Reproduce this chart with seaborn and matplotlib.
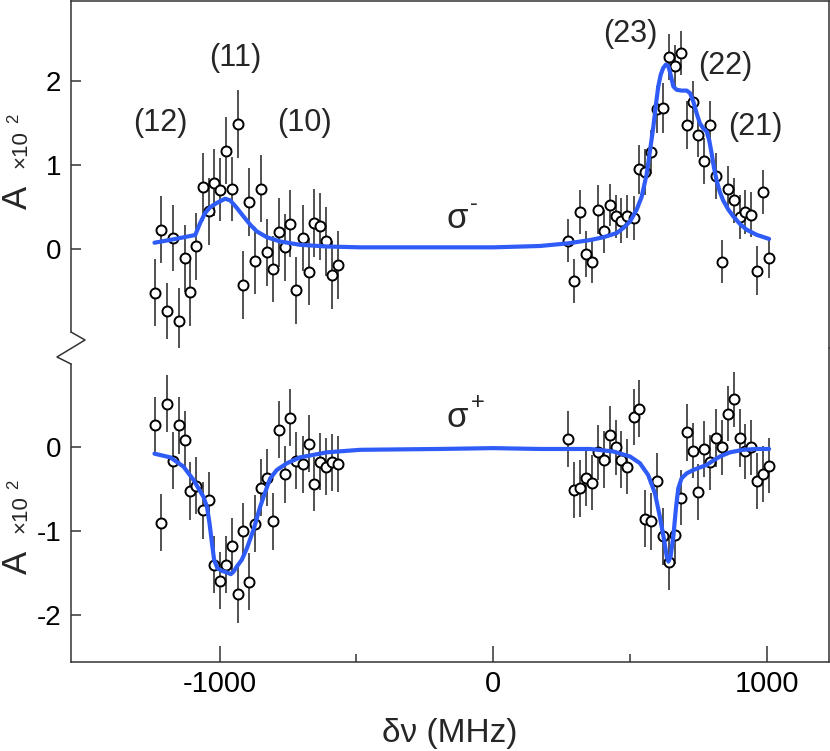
import numpy as np
import matplotlib
matplotlib.use("Agg")
import matplotlib.pyplot as plt
import seaborn as sns
from matplotlib.lines import Line2D
from matplotlib.ticker import FixedLocator

# ---- data ----
# sigma- , left group (10)-(12)
x_left = [-1235, -1214, -1193, -1171, -1150, -1128, -1107, -1085, -1061, -1040,
          -1020, -998, -977, -955, -933, -913, -891, -869, -848, -826,
          -805, -783, -762, -741, -719, -697, -675, -654, -633, -611,
          -589, -567]
sm_left = [-0.52, 0.23, -0.74, 0.13, -0.86, -0.11, -0.51, 0.03, 0.74, 0.45,
           0.79, 0.71, 1.17, 0.72, 1.49, -0.43, 0.56, -0.14, 0.72, -0.04,
           -0.24, 0.20, 0.02, 0.30, -0.49, 0.13, -0.27, 0.31, 0.27, 0.09,
           -0.31, -0.19]
sm_left_err = [0.40, 0.40, 0.33, 0.39, 0.40, 0.40, 0.41, 0.40, 0.40, 0.40,
               0.40, 0.38, 0.40, 0.38, 0.41, 0.41, 0.41, 0.40, 0.40, 0.40,
               0.39, 0.41, 0.40, 0.40, 0.40, 0.39, 0.40, 0.41, 0.40, 0.41,
               0.41, 0.41]

# right group (21)-(23)
x_right = [274, 295, 317, 339, 361, 383, 404, 426, 447, 468,
           490, 513, 534, 556, 577, 598, 620, 641, 663, 685,
           707, 729, 749, 771, 792, 814, 836, 856, 878, 900,
           921, 943, 965, 986, 1007]
sm_right = [0.10, -0.38, 0.44, -0.06, -0.15, 0.47, 0.21, 0.53, 0.39, 0.34,
            0.39, 0.37, 0.95, 0.92, 1.16, 1.67, 1.68, 2.29, 2.18, 2.34,
            1.48, 1.75, 1.36, 1.05, 1.48, 0.87, -0.15, 0.72, 0.58, 0.38,
            0.44, 0.41, -0.26, 0.68, -0.11]
sm_right_err = [0.26, 0.26, 0.26, 0.27, 0.26, 0.29, 0.26, 0.25, 0.26, 0.27,
                0.26, 0.26, 0.29, 0.27, 0.26, 0.28, 0.30, 0.27, 0.26, 0.26,
                0.29, 0.26, 0.26, 0.27, 0.29, 0.27, 0.26, 0.27, 0.27, 0.26,
                0.26, 0.27, 0.29, 0.26, 0.24]

# sigma+ , same frequencies
sp_left = [0.26, -0.90, 0.52, -0.16, 0.26, 0.09, -0.52, -0.46, -0.75, -0.63,
           -1.40, -1.59, -1.40, -1.18, -1.75, -1.00, -1.60, -0.91, -0.48, -0.36,
           -0.88, 0.21, -0.32, 0.35, -0.16, -0.20, 0.04, -0.44, -0.17, -0.23,
           -0.18, -0.20]
sp_left_err = [0.34, 0.34, 0.34, 0.34, 0.34, 0.34, 0.34, 0.34, 0.34, 0.34,
               0.34, 0.34, 0.34, 0.34, 0.34, 0.34, 0.34, 0.34, 0.34, 0.34,
               0.34, 0.34, 0.34, 0.34, 0.34, 0.34, 0.34, 0.32, 0.34, 0.34,
               0.34, 0.33]
sp_right = [0.10, -0.51, -0.49, -0.37, -0.42, -0.06, -0.15, 0.15, 0.00, -0.15,
            -0.23, 0.36, 0.46, -0.85, -0.88, -0.40, -1.06, -1.37, -1.05, -0.60,
            0.18, -0.04, -0.53, -0.02, -0.18, 0.11, 0.00, 0.40, 0.57, 0.11,
            -0.05, 0.00, -0.40, -0.32, -0.22]
sp_right_err = [0.33, 0.33, 0.34, 0.33, 0.33, 0.33, 0.34, 0.34, 0.33, 0.34,
                0.33, 0.33, 0.34, 0.34, 0.34, 0.33, 0.34, 0.33, 0.34, 0.33,
                0.34, 0.33, 0.33, 0.33, 0.33, 0.34, 0.33, 0.33, 0.33, 0.34,
                0.33, 0.33, 0.33, 0.33, 0.33]

# fitted curves, sampled along the drawn line
fit_x_minus = [-1238, -1168, -1089, -1071, -1053, -1034, -1010, -980, -961, -937,
               -913, -888, -864, -827, -779, -706, -608, -486, -200, 0,
               171, 274, 354, 402, 451, 475, 500, 524, 542, 561,
               573, 585, 595, 603, 612, 621, 631, 640, 648, 658,
               670, 688, 707, 719, 731, 743, 755, 767, 780, 789,
               798, 806, 816, 828, 840, 859, 877, 901, 926, 962, 1008]
fit_y_minus = [0.075, 0.116, 0.167, 0.31, 0.43, 0.50, 0.55, 0.60, 0.58, 0.49,
               0.39, 0.29, 0.21, 0.14, 0.09, 0.05, 0.03, 0.02, 0.02, 0.02,
               0.036, 0.068, 0.107, 0.14, 0.19, 0.25, 0.33, 0.47, 0.62, 0.90,
               1.18, 1.46, 1.74, 1.94, 2.08, 2.16, 2.20, 2.18, 2.08, 1.94,
               1.90, 1.89, 1.89, 1.86, 1.76, 1.62, 1.50, 1.44, 1.40, 1.30,
               1.14, 0.98, 0.82, 0.68, 0.58, 0.47, 0.39, 0.30, 0.23, 0.17, 0.12]

fit_x_plus = [-1238, -1180, -1132, -1095, -1059, -1046, -1037, -1028, -1020, -1008,
              -992, -973, -959, -949, -937, -919, -900, -876, -852, -833,
              -815, -791, -754, -706, -608, -486, -200, 0, 171, 354,
              439, 500, 536, 566, 591, 609, 624, 634, 640, 648,
              658, 668, 676, 688, 707, 731, 755, 780, 798, 828,
              865, 913, 962, 1008]
fit_y_plus = [-0.076, -0.12, -0.23, -0.39, -0.59, -0.71, -0.90, -1.14, -1.34, -1.44,
              -1.47, -1.49, -1.51, -1.48, -1.42, -1.34, -1.20, -0.98, -0.71, -0.53,
              -0.37, -0.27, -0.19, -0.12, -0.06, -0.03, -0.02, -0.01, -0.02, -0.02,
              -0.05, -0.11, -0.19, -0.33, -0.55, -0.83, -1.10, -1.30, -1.36, -1.30,
              -1.06, -0.71, -0.49, -0.37, -0.31, -0.27, -0.24, -0.21, -0.17, -0.11,
              -0.06, -0.03, -0.02, -0.02]

peak_labels = ["(12)", "(11)", "(10)", "(23)", "(22)", "(21)"]
peak_label_x = [-1217, -941, -689, 500, 846, 956]
peak_label_y = [1.50, 2.28, 1.50, 2.57, 2.18, 1.46]

# ---- style ----
sns.set_style("ticks")
plt.rcParams["font.family"] = ["Liberation Sans", "DejaVu Sans"]
plt.rcParams["axes.unicode_minus"] = False
BLUE = "#2f5cf7"
DARK = "#333333"

W, H = 830, 751
fig = plt.figure(figsize=(W / 100, H / 100), dpi=100)


def fx(px):
    return px / W


def fy(py):
    return 1 - py / H


left, right = 71, 828.5
ax_top = fig.add_axes([fx(left), fy(348), fx(right) - fx(left), (348 - 1) / H])
ax_bot = fig.add_axes([fx(left), fy(662), fx(right) - fx(left), (662 - 348) / H])

xs = np.array(x_left + x_right)
panels = [
    (ax_top, sm_left + sm_right, sm_left_err + sm_right_err, fit_x_minus, fit_y_minus, (-1.181, 2.959)),
    (ax_bot, sp_left + sp_right, sp_left_err + sp_right_err, fit_x_plus, fit_y_plus, (-2.556, 1.182)),
]
for ax, ys, errs, fxs, fys, ylim in panels:
    ax.errorbar(xs, ys, yerr=errs, fmt="none", ecolor=DARK, elinewidth=1.2, capsize=0, zorder=2)
    sns.scatterplot(x=xs, y=ys, ax=ax, s=52, marker="o", facecolor="white",
                    edgecolor="black", linewidth=1.4, zorder=3)
    sns.lineplot(x=fxs, y=fys, ax=ax, color=BLUE, lw=3.0, sort=False, zorder=4)
    ax.set_xlim(-1543, 1225)
    ax.set_ylim(*ylim)
    for s in ax.spines.values():
        s.set_color(DARK)
        s.set_linewidth(1.1)
    ax.tick_params(axis="y", direction="in", length=7.2, width=1.1, colors=DARK,
                   labelcolor="black", labelsize=20, pad=7)
    ax.set_facecolor("white")

ax_top.spines["bottom"].set_visible(False)
ax_top.spines["left"].set_bounds(-0.99, 2.959)
ax_top.set_yticks([0, 1, 2])
ax_top.tick_params(axis="x", bottom=False, labelbottom=False)

ax_bot.spines["top"].set_visible(False)
ax_bot.spines["left"].set_bounds(-2.556, 0.99)
ax_bot.set_yticks([-2, -1, 0])
ax_bot.set_xticks([-1000, 0, 1000])
ax_bot.xaxis.set_minor_locator(FixedLocator([-500, 500]))
ax_bot.tick_params(axis="x", which="major", direction="in", length=11.5, width=1.1,
                   colors=DARK, labelcolor="black", labelsize=21, pad=6)
ax_bot.tick_params(axis="x", which="minor", direction="in", length=5.8, width=1.1, colors=DARK)
ax_bot.set_xlabel("δν (MHz)", fontsize=24, labelpad=14)

# axis break zigzag on the left spine
zig = Line2D([fx(71), fx(85), fx(57), fx(71)], [fy(332), fy(340), fy(357), fy(364)],
             transform=fig.transFigure, color=DARK, lw=1.1)
fig.lines.append(zig)

# peak labels
for lab, px, py in zip(peak_labels, peak_label_x, peak_label_y):
    ax_top.text(px, py, lab, fontsize=22, ha="center", va="center")

# sigma labels
ax_top.text(-131, 0.37, "σ", fontsize=25, ha="center", va="center")
ax_top.text(-72, 0.54, "-", fontsize=17, ha="center", va="center")
ax_bot.text(-131, 0.36, "σ", fontsize=25, ha="center", va="center")
ax_bot.text(-58, 0.53, "+", fontsize=17, ha="center", va="center")

# y labels  "A x10^2"
for a_y, t_y, s_y in [(197, 149, 118), (562, 514, 484)]:
    fig.text(fx(17), fy(a_y), "A", fontsize=25, rotation=90, ha="center", va="center")
    fig.text(fx(21), fy(t_y), "×10", fontsize=16, rotation=90, ha="center", va="center")
    fig.text(fx(14), fy(s_y), "2", fontsize=12, rotation=90, ha="center", va="center")

fig.savefig("out.png", dpi=100)
